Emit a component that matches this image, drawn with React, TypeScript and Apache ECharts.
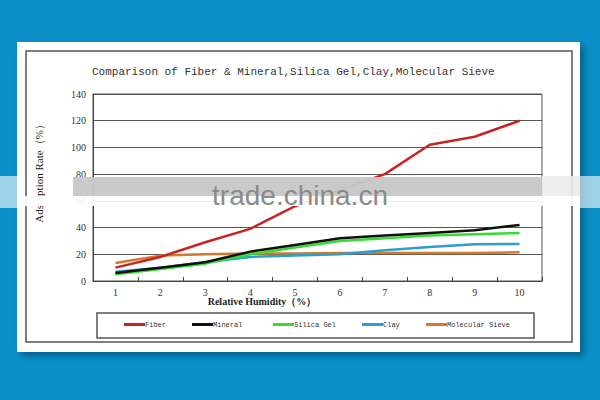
import React, { useEffect, useRef } from "react";
import * as echarts from "echarts";

const categories = ["1", "2", "3", "4", "5", "6", "7", "8", "9", "10"];
const fiber = [10, 18, 29, 39, 56, 68, 80, 102, 108, 120];
const mineral = [6, 10, 14, 22, 27, 32, 34, 36, 38, 42];
const silicaGel = [5, 9, 13, 20, 25, 30, 32, 34, 35, 36];
const clay = [7, 10, 14, 18, 19, 20, 23, 25.5, 27.5, 27.7];
const molecularSieve = [13.5, 19, 20, 20.5, 20.5, 21, 21, 21, 21, 21.5];

const seriesNames = ["Fiber", "Mineral", "Silica Gel", "Clay", "Molecular Sieve"];
const seriesColors = ["#c82424", "#111111", "#33dd33", "#2a9fd0", "#d07a2a"];
const seriesData = [fiber, mineral, silicaGel, clay, molecularSieve];
const legendLefts = [124, 192, 273, 362, 426];

const titleText = "Comparison of Fiber & Mineral,Silica Gel,Clay,Molecular Sieve";

export default function App() {
  const ref = useRef<HTMLDivElement>(null);
  useEffect(() => {
    if (!ref.current) return;
    const chart = echarts.init(ref.current, undefined, { renderer: "svg" });
    const option: any = {
      animation: false,
      backgroundColor: "#0a90c6",
      title: {
        text: titleText,
        left: 92,
        top: 66,
        padding: 0,
        textStyle: {
          fontFamily: "Liberation Mono",
          fontSize: 11,
          fontWeight: "normal",
          color: "#333",
        },
      },
      grid: {
        left: 93,
        right: 58,
        top: 94,
        bottom: 119,
        show: true,
        borderColor: "#555",
        borderWidth: 1,
        backgroundColor: "transparent",
      },
      legend: seriesNames.map((n, i) => ({
        data: [{ name: n, icon: "rect" }],
        left: legendLefts[i],
        top: 321,
        padding: 0,
        itemWidth: 21,
        itemHeight: 3,
        textStyle: {
          fontFamily: "Liberation Mono",
          fontSize: 7,
          color: "#333",
          padding: [0, 0, 0, -5],
        },
      })),
      xAxis: {
        type: "category",
        data: categories,
        boundaryGap: true,
        axisLine: { lineStyle: { color: "#444", width: 1 } },
        axisTick: { show: true, inside: true, length: 4, interval: 0, lineStyle: { color: "#444" } },
        axisLabel: {
          margin: 6,
          fontFamily: "Liberation Serif",
          fontSize: 10,
          color: "#333",
        },
      },
      yAxis: {
        type: "value",
        min: 0,
        max: 140,
        interval: 20,
        axisLine: { show: true, lineStyle: { color: "#444", width: 1 } },
        axisTick: { show: false },
        axisLabel: {
          margin: 7,
          fontFamily: "Liberation Serif",
          fontSize: 10,
          color: "#333",
        },
        splitLine: { show: true, lineStyle: { color: "#555", width: 1 } },
      },
      series: seriesNames.map((n, i) => ({
        name: n,
        type: "line",
        data: seriesData[i],
        symbol: "none",
        lineStyle: { color: seriesColors[i], width: 2.5 },
        itemStyle: { color: seriesColors[i] },
        z: 3 + (4 - i),
      })),
      graphic: [
        {
          type: "rect",
          z: -10,
          shape: { x: 17, y: 42, width: 563, height: 310 },
          style: {
            fill: "#ffffff",
            shadowBlur: 6,
            shadowColor: "rgba(0,40,70,0.45)",
            shadowOffsetX: 4,
            shadowOffsetY: 4,
          },
        },
        {
          type: "rect",
          z: -9,
          shape: { x: 26, y: 51, width: 546, height: 291 },
          style: { fill: "none", stroke: "#555", lineWidth: 1.5 },
        },
        {
          type: "rect",
          z: -9,
          shape: { x: 97, y: 313, width: 437, height: 25 },
          style: { fill: "none", stroke: "#555", lineWidth: 1.5 },
        },
        {
          type: "text",
          z: 5,
          x: 262,
          y: 301,
          style: {
            text: "Relative Humidity（%）",
            align: "center",
            verticalAlign: "middle",
            font: "bold 10px 'Liberation Serif'",
            fill: "#222",
          },
        },
        {
          type: "text",
          z: 5,
          x: 39,
          y: 171,
          rotation: Math.PI / 2,
          style: {
            text: "Adsorption Rate（%）",
            align: "center",
            verticalAlign: "middle",
            font: "11px 'Liberation Serif'",
            fill: "#222",
          },
        },
        {
          type: "rect",
          z: 100,
          shape: { x: 0, y: 176, width: 17, height: 32 },
          style: { fill: "rgba(255,255,255,0.6)" },
        },
        {
          type: "rect",
          z: 100,
          shape: { x: 580, y: 176, width: 20, height: 32 },
          style: { fill: "rgba(255,255,255,0.6)" },
        },
        {
          type: "rect",
          z: 100,
          shape: { x: 17, y: 196, width: 563, height: 10 },
          style: { fill: "rgba(255,255,255,0.92)" },
        },
        {
          type: "rect",
          z: 100,
          shape: { x: 542, y: 176, width: 38, height: 20 },
          style: { fill: "rgba(235,235,235,0.9)" },
        },
        {
          type: "rect",
          z: 101,
          shape: { x: 73, y: 177, width: 469, height: 19 },
          style: { fill: "rgba(200,200,200,0.96)" },
        },
        {
          type: "text",
          z: 102,
          x: 300,
          y: 195,
          style: {
            text: "trade.china.cn",
            align: "center",
            verticalAlign: "middle",
            font: "28px 'Liberation Sans'",
            fill: "#8a8a8a",
          },
        },
      ],
    };
    chart.setOption(option);
    return () => chart.dispose();
  }, []);
  return (
    <div
      ref={ref}
      style={{ position: "fixed", left: 0, top: 0, width: 600, height: 400 }}
    />
  );
}
